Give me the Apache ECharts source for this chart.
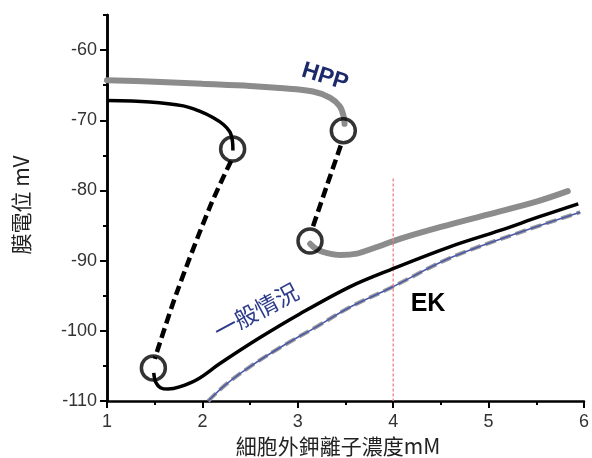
<!DOCTYPE html>
<html><head><meta charset="utf-8">
<script src="https://cdn.jsdelivr.net/npm/echarts@6/dist/echarts.min.js"></script>
<style>html,body{margin:0;padding:0;background:#fff}#c{width:592px;height:458px}</style>
</head><body><div id="c"></div>
<script>
// x: extracellular K+ (mM), y: membrane potential (mV)
const xMin = 1, xMax = 6, xStep = 1;
const yMin = -110, yMax = -55, yMinorStep = 5;
const yMajorTicks = [-110, -100, -90, -80, -70, -60];

const hppUpper = [[1,-64.3],[1.5,-64.5],[2,-64.8],[2.5,-65.1],[2.81,-65.4],[3.16,-65.9],[3.34,-66.8],[3.44,-68.0],[3.48,-69.4],[3.49,-70.5]];
const hppLower = [[3.13,-87.6],[3.2,-88.4],[3.3,-88.9],[3.45,-89.2],[3.62,-89.0],[3.8,-88.2],[4.07,-86.9],[4.5,-85.2],[5.0,-83.4],[5.5,-81.6],[5.83,-80.1]];
const hppJump = [[3.45,-73.6],[3.3,-79.5],[3.15,-85.5]];

const normUpper = [[1,-67.2],[1.45,-67.4],[1.8,-67.95],[1.97,-68.7],[2.11,-69.6],[2.22,-70.6],[2.29,-71.7],[2.315,-73.0],[2.32,-74.3]];
const normLower = [[1.49,-106.0],[1.51,-107.3],[1.56,-108.1],[1.64,-108.3],[1.76,-108.0],[1.95,-106.9],[2.18,-104.7],[2.6,-101.0],[3.02,-97.6],[3.55,-93.7],[3.97,-91.3],[4.6,-88.0],[5.12,-85.7],[5.54,-83.7],[5.94,-81.9]];
const normJump = [[2.3,-75.8],[2.08,-82.3],[1.73,-94.6],[1.5,-104.0]];

const ekCurve = [[2.06,-110],[2.25,-107.6],[2.5,-105.1],[2.85,-102.1],[3.2,-99.4],[3.55,-96.6],[3.97,-93.9],[4.6,-89.6],[5.3,-86.1],[5.96,-83.1]];

const bifurcationPoints = [[2.317,-74.1],[1.486,-105.3],[3.477,-71.5],[3.128,-87.2]];
const ekMarker = [[4,-78.3],[4,-110]];

const cjk = '"Noto Sans CJK TC","Noto Sans CJK SC",sans-serif';
const latin = '"Liberation Sans",Arial,sans-serif';

const chart = echarts.init(document.getElementById('c'), null, {renderer:'canvas'});
const axisLineStyle = {color:'#000', width:2.5};
const option = {
  animation: false,
  backgroundColor: '#fff',
  grid: {left:107, right:8, top:15, bottom:57},
  xAxis: {
    type:'value', min:xMin, max:xMax, interval:xStep,
    axisLine:{show:true, onZero:false, lineStyle:axisLineStyle},
    axisTick:{show:true, inside:false, length:7, lineStyle:{color:'#000', width:2}},
    minorTick:{show:true, splitNumber:2, length:4, lineStyle:{color:'#000', width:2}},
    splitLine:{show:false}, minorSplitLine:{show:false},
    axisLabel:{color:'#333', fontSize:18, margin:12, fontFamily:latin}
  },
  yAxis: [{
    // minor ticks every 5 mV
    type:'value', min:yMin, max:yMax, interval:yMinorStep, position:'left', z:1,
    axisLine:{show:true, onZero:false, lineStyle:axisLineStyle},
    axisTick:{show:true, inside:false, length:4, lineStyle:{color:'#000', width:2}},
    axisLabel:{show:false},
    splitLine:{show:false}
  },{
    type:'value', min:yMin, max:yMax, position:'left', offset:0, z:2,
    axisLine:{show:true, onZero:false, lineStyle:axisLineStyle},
    axisTick:{show:true, inside:false, length:7, customValues:yMajorTicks, lineStyle:{color:'#000', width:2}},
    axisLabel:{color:'#333', fontSize:18, margin:10, fontFamily:latin, customValues:yMajorTicks},
    splitLine:{show:false}
  }],
  series: [
    {type:'line', data:ekCurve, smooth:0.35, symbol:'none',
     lineStyle:{color:'#9a9a9a', width:4, type:[11,5]}, z:2},
    {type:'line', data:ekCurve, smooth:0.35, symbol:'none',
     lineStyle:{color:'#4a58a8', width:1.6}, z:3},
    {type:'line', data:hppUpper, smooth:0.35, symbol:'none',
     lineStyle:{color:'#8c8c8c', width:6, cap:'round'}, z:4},
    {type:'line', data:hppLower, smooth:0.35, symbol:'none',
     lineStyle:{color:'#8c8c8c', width:6, cap:'round'}, z:4},
    {type:'line', data:ekMarker, symbol:'none',
     lineStyle:{color:'#ee8080', width:1.3, type:[3,2]}, z:5},
    {type:'line', data:normUpper, smooth:0.35, symbol:'none',
     lineStyle:{color:'#000', width:3.5}, z:6},
    {type:'line', data:normLower, smooth:0.35, symbol:'none',
     lineStyle:{color:'#000', width:3.5}, z:6},
    {type:'line', data:normJump, smooth:0.3, symbol:'none',
     lineStyle:{color:'#000', width:4.5, type:[10,5]}, z:6},
    {type:'line', data:hppJump, smooth:0.3, symbol:'none',
     lineStyle:{color:'#000', width:4.5, type:[10,5]}, z:6},
    {type:'scatter', data:bifurcationPoints, symbol:'circle', symbolSize:24,
     itemStyle:{color:'rgba(0,0,0,0)', borderColor:'#000', borderWidth:3.5}, z:7}
  ],
  graphic: [
    {type:'text', x:325, y:77, rotation:-0.30, z:10,
     style:{text:'HPP', fill:'#1c2a6b', font:'900 23px '+latin, textAlign:'center', textVerticalAlign:'middle'}},
    {type:'text', x:256, y:311, rotation:0.49, z:10,
     style:{text:'一般情況', fill:'#2c3a8a', font:'23px '+cjk, textAlign:'center', textVerticalAlign:'middle'}},
    {type:'text', x:428, y:304, z:10,
     style:{text:'EK', fill:'#000', font:'bold 25px '+latin, textAlign:'center', textVerticalAlign:'middle'}},
    {type:'text', x:21, y:205, rotation:Math.PI/2, z:10,
     style:{text:'膜電位 mV', fill:'#222', font:'21px '+cjk, textAlign:'center', textVerticalAlign:'middle'}},
    {type:'text', x:338, y:446, z:10,
     style:{text:'細胞外鉀離子濃度mM', fill:'#222', font:'21px '+cjk, textAlign:'center', textVerticalAlign:'middle'}}
  ]
};
chart.setOption(option);
</script>
</body></html>
